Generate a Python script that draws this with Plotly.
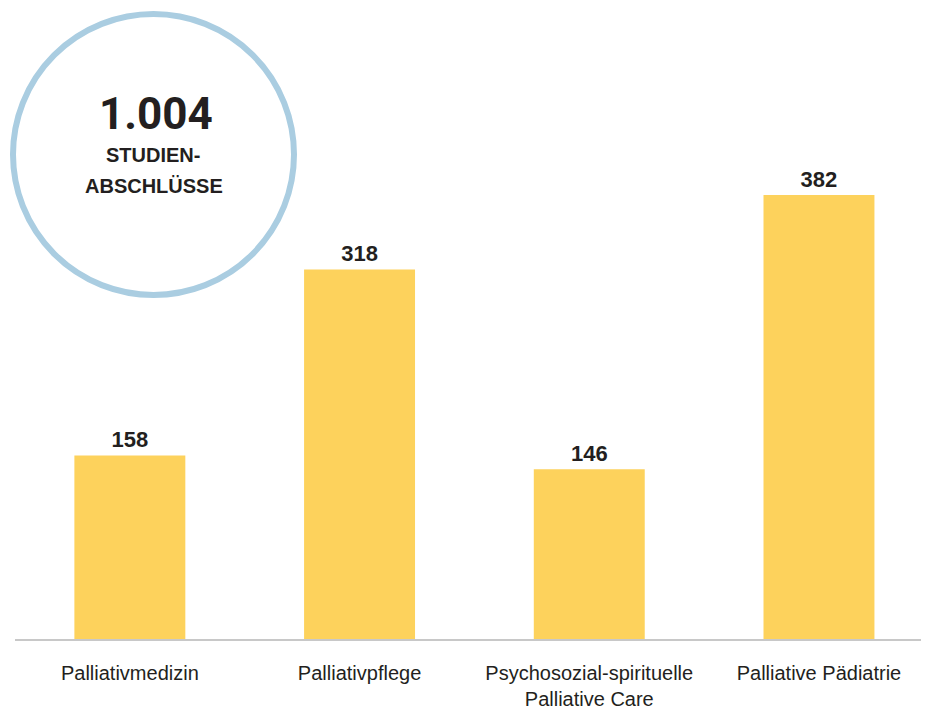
import plotly.graph_objects as go

categories = ["Palliativmedizin", "Palliativpflege", "Psychosozial-spirituelle<br>Palliative Care", "Palliative Pädiatrie"]
values = [158, 318, 146, 382]
total_label = "1.004"
total_caption = ["STUDIEN-", "ABSCHLÜSSE"]

BAR = "#FDD25C"
TXT = "#231F20"

# page body adds an 8px offset; figure sized to the remaining viewport
W, H = 921, 702
L, B = 7, 71
PLOT_W, PLOT_H = W - L, H - B


def px_x(sx):
    return (sx - 8 - L) / PLOT_W


def px_y(sy):
    return 1 - (sy - 8) / PLOT_H


fig = go.Figure(go.Bar(
    x=list(range(len(categories))),
    y=values,
    marker=dict(color=BAR, line=dict(width=0)),
    width=0.483,
    text=[str(v) for v in values],
    textposition="outside",
    textfont=dict(family="Liberation Sans, Arial, sans-serif", size=22, color=TXT, weight="bold"),
    cliponaxis=False,
    hoverinfo="skip",
))

fig.update_layout(
    width=W, height=H,
    margin=dict(l=L, r=0, t=0, b=B, autoexpand=False),
    paper_bgcolor="white", plot_bgcolor="white",
    showlegend=False,
    xaxis=dict(
        range=[-0.5, 3.479],
        tickmode="array",
        tickvals=list(range(len(categories))),
        ticktext=categories,
        showgrid=False, zeroline=False,
        showline=True, linecolor="#C8C8C8", linewidth=2,
        ticks="",
        ticklabelstandoff=15,
        automargin=False,
        tickfont=dict(family="Liberation Sans, Arial, sans-serif", size=20, color=TXT),
        fixedrange=True,
    ),
    yaxis=dict(range=[0, 543], visible=False, fixedrange=True, automargin=False),
)

# circle badge
cx, cy, r = 153.5, 154.5, 140.5
fig.add_shape(
    type="circle", xref="paper", yref="paper",
    xsizemode="pixel", ysizemode="pixel",
    xanchor=0, yanchor=1,
    x0=(cx - 8 - L) - r, x1=(cx - 8 - L) + r,
    y0=-(cy - 8) - r, y1=-(cy - 8) + r,
    line=dict(color="#AACDE1", width=6),
    fillcolor="rgba(255,255,255,0)",
    layer="above",
)

fig.add_annotation(
    xref="paper", yref="paper", x=px_x(156), y=px_y(114),
    text=f"<b>{total_label}</b>", showarrow=False,
    font=dict(family="Roboto, sans-serif", size=44, color=TXT),
    xanchor="center", yanchor="middle",
)
fig.add_annotation(
    xref="paper", yref="paper", x=px_x(153), y=px_y(155),
    text=f"<b>{total_caption[0]}</b>", showarrow=False,
    font=dict(family="Liberation Sans, Arial, sans-serif", size=20, color=TXT),
    xanchor="center", yanchor="middle",
)
fig.add_annotation(
    xref="paper", yref="paper", x=px_x(154), y=px_y(186),
    text=f"<b>{total_caption[1]}</b>", showarrow=False,
    font=dict(family="Liberation Sans, Arial, sans-serif", size=20, color=TXT),
    xanchor="center", yanchor="middle",
)

fig.write_html("out.html")
